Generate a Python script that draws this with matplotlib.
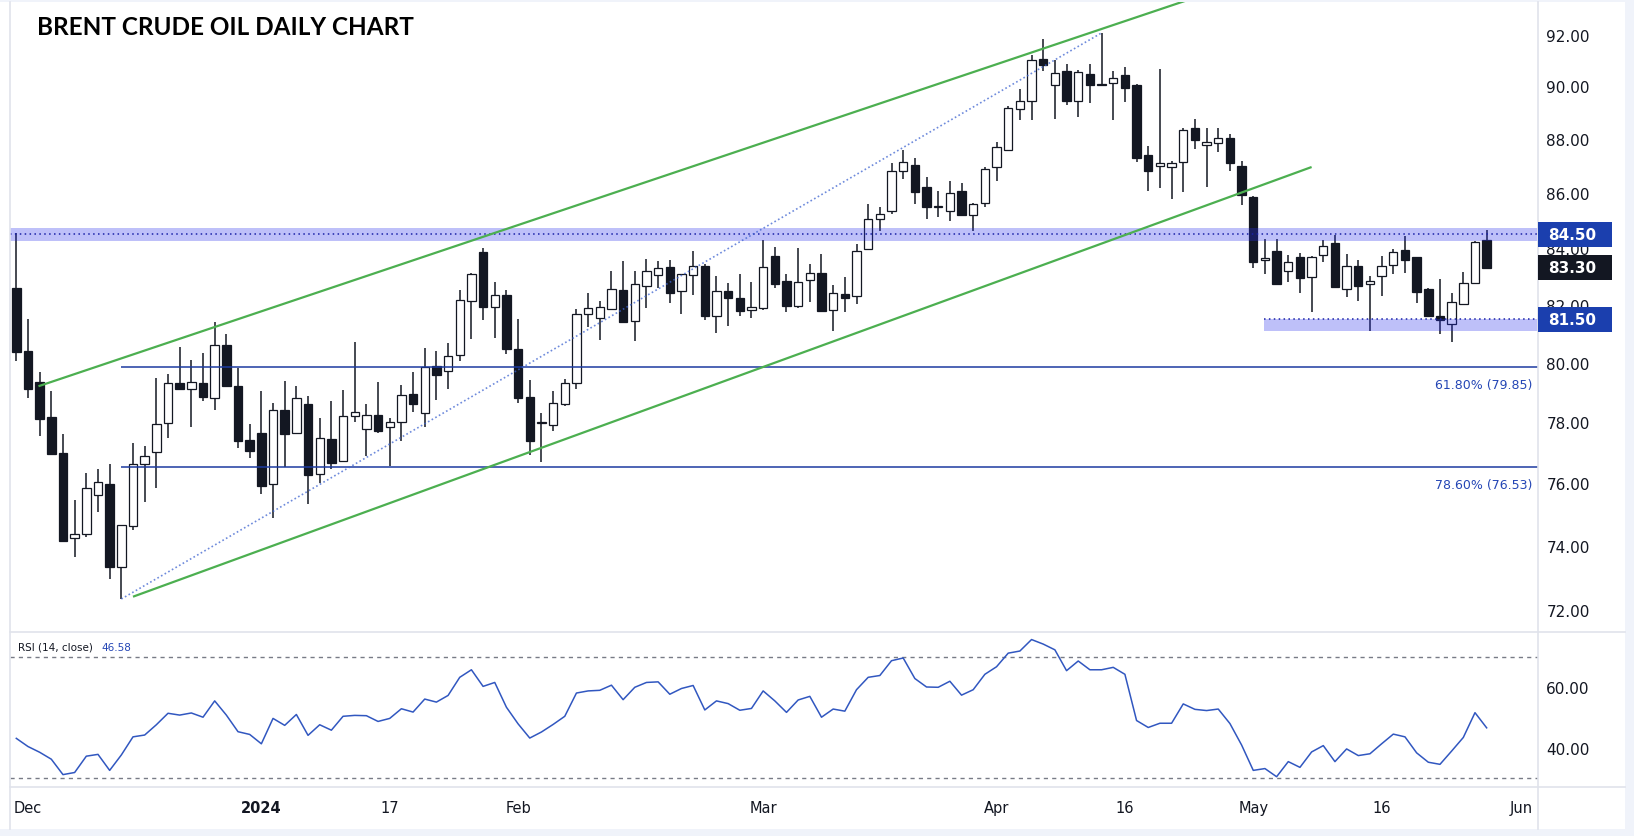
import matplotlib

matplotlib.use('Agg')

import matplotlib.pyplot as plt
import numpy as np
import pandas as pd
from matplotlib.lines import Line2D
from matplotlib.patches import Rectangle
from matplotlib.ticker import FixedLocator, NullLocator, FuncFormatter
from matplotlib.transforms import IdentityTransform

W, H = 1634, 837

# trading sessions shown on the chart
holidays = pd.to_datetime(['2023-12-25', '2024-01-01', '2024-03-29'])
dates = pd.bdate_range('2023-11-30', '2024-05-29')
dates = dates[~dates.isin(holidays)]

opens = [82.60, 80.41, 79.36, 78.18, 76.98, 74.24, 74.37, 75.63, 75.98, 73.35,
         74.63, 76.62, 77.02, 77.97, 79.31, 79.10, 79.33, 78.81, 80.62, 79.21,
         77.42, 77.65, 75.97, 78.40, 77.64, 78.60, 76.30, 77.45, 76.73, 78.22,
         77.77, 78.26, 77.84, 78.00, 78.94, 78.30, 79.89, 79.72, 80.27, 82.13,
         83.86, 81.92, 82.34, 80.48, 78.84, 77.98, 77.90, 78.60, 79.31, 81.68,
         81.54, 81.85, 82.53, 81.43, 82.66, 83.04, 83.33, 82.48, 83.04, 83.37,
         81.61, 82.48, 82.24, 81.81, 81.90, 83.73, 82.83, 81.96, 82.87, 83.12,
         81.81, 82.38, 82.30, 83.96, 85.05, 85.33, 86.83, 87.04, 86.21, 85.50,
         85.33, 86.06, 85.21, 85.63, 86.96, 87.59, 89.13, 89.43, 91.05, 90.04,
         90.59, 89.45, 90.47, 90.08, 90.12, 90.43, 90.04, 87.40, 86.99, 86.96,
         87.14, 88.41, 87.79, 87.85, 88.05, 87.00, 85.87, 83.58, 83.90, 83.19,
         83.68, 82.98, 83.76, 84.19, 82.55, 83.36, 82.73, 83.01, 83.40, 83.94,
         83.68, 82.56, 81.61, 81.33, 82.02, 82.76, 84.30]
highs = [84.55, 81.51, 79.69, 79.05, 77.62, 75.47, 76.34, 76.47, 76.63, 74.66,
         77.33, 77.23, 79.49, 79.63, 80.55, 80.10, 80.34, 81.40, 81.00, 79.83,
         77.95, 79.05, 78.65, 79.39, 79.22, 78.88, 78.14, 78.72, 79.09, 80.71,
         78.60, 79.36, 78.13, 79.26, 79.69, 80.51, 80.41, 80.68, 82.53, 83.13,
         84.00, 82.81, 82.53, 81.51, 79.43, 78.31, 79.04, 79.46, 81.86, 82.41,
         82.14, 83.20, 83.55, 83.20, 83.63, 83.55, 83.59, 83.10, 83.90, 83.45,
         83.02, 82.77, 83.09, 82.81, 84.30, 84.05, 83.09, 84.01, 83.44, 83.79,
         82.70, 82.98, 84.14, 85.60, 85.48, 87.11, 87.60, 87.29, 86.59, 86.06,
         86.44, 86.38, 85.64, 86.96, 87.88, 89.24, 89.90, 91.22, 91.83, 91.01,
         90.86, 90.63, 90.86, 92.07, 90.59, 90.75, 90.08, 87.74, 90.67, 87.18,
         88.41, 88.75, 88.41, 88.40, 88.20, 87.20, 85.90, 84.35, 84.32, 83.76,
         83.82, 83.74, 84.30, 84.47, 83.80, 83.59, 83.02, 83.73, 83.98, 84.45,
         83.70, 82.60, 82.92, 82.41, 83.15, 84.26, 84.65]
lows = [80.08, 78.81, 77.56, 76.95, 74.15, 73.66, 74.28, 75.07, 72.97, 72.35,
        74.52, 75.39, 75.84, 77.48, 79.08, 77.86, 78.73, 78.42, 79.20, 77.15,
        76.82, 75.67, 74.88, 76.53, 77.62, 75.33, 76.02, 76.46, 76.71, 78.02,
        76.90, 77.66, 76.58, 77.40, 78.36, 77.86, 78.76, 79.10, 80.07, 80.83,
        81.49, 80.86, 80.32, 78.64, 76.91, 76.69, 77.70, 78.53, 79.10, 81.24,
        80.80, 81.83, 81.40, 80.76, 81.90, 82.59, 82.08, 81.70, 82.36, 81.46,
        81.04, 81.28, 81.61, 81.56, 81.83, 82.61, 81.77, 81.88, 82.11, 81.74,
        81.11, 81.74, 82.02, 83.94, 84.64, 85.23, 86.50, 85.61, 85.07, 85.14,
        84.97, 85.19, 84.61, 85.50, 86.43, 87.57, 88.70, 88.73, 90.57, 88.77,
        89.27, 88.85, 89.38, 90.02, 88.73, 89.42, 87.13, 86.09, 86.20, 85.80,
        86.05, 87.64, 86.24, 87.50, 86.80, 85.57, 83.31, 83.07, 82.73, 82.82,
        82.43, 81.74, 83.51, 82.62, 82.29, 82.15, 81.11, 82.33, 83.10, 83.14,
        82.08, 81.59, 80.98, 80.70, 82.00, 82.74, 83.29]
closes = [80.39, 79.10, 78.12, 76.97, 74.17, 74.38, 75.85, 76.03, 73.35, 74.66,
          76.62, 76.89, 77.93, 79.31, 79.10, 79.36, 78.86, 80.62, 79.23, 77.40,
          77.04, 75.90, 78.40, 77.63, 78.81, 76.28, 77.48, 76.67, 78.20, 78.33,
          78.26, 77.72, 78.00, 78.91, 78.62, 79.85, 79.60, 80.23, 82.16, 83.08,
          81.92, 82.34, 80.46, 78.81, 77.40, 78.00, 78.64, 79.31, 81.68, 81.88,
          81.92, 82.55, 81.42, 82.73, 83.19, 83.29, 82.43, 83.08, 83.36, 81.63,
          82.48, 82.25, 81.80, 81.92, 83.33, 82.75, 81.95, 82.82, 83.14, 81.80,
          82.41, 82.26, 83.89, 85.05, 85.22, 86.81, 87.14, 86.05, 85.50, 85.52,
          85.99, 85.21, 85.59, 86.89, 87.69, 89.17, 89.43, 91.01, 90.81, 90.50,
          89.45, 90.54, 90.06, 90.06, 90.31, 89.95, 87.31, 86.83, 87.10, 87.10,
          88.33, 87.98, 87.90, 88.05, 87.10, 85.93, 83.53, 83.65, 82.75, 83.51,
          82.94, 83.68, 84.07, 82.64, 83.36, 82.68, 82.83, 83.36, 83.86, 83.60,
          82.47, 81.63, 81.47, 82.09, 82.76, 84.21, 83.30]

rsi = [43.1, 40.4, 38.5, 36.2, 31.1, 31.8, 37.2, 37.8, 32.5, 37.6,
       43.6, 44.2, 47.6, 51.4, 50.8, 51.5, 50.1, 55.5, 50.8, 45.3,
       44.4, 41.3, 49.7, 47.4, 51.0, 44.1, 47.6, 45.8, 50.4, 50.7,
       50.6, 48.7, 49.7, 52.9, 51.8, 56.1, 55.1, 57.3, 63.3, 65.8,
       60.3, 61.6, 53.4, 47.9, 43.2, 45.2, 47.7, 50.4, 58.1, 58.8,
       59.0, 60.7, 55.9, 60.0, 61.6, 61.8, 57.7, 59.6, 60.6, 52.5,
       55.5, 54.6, 52.4, 53.0, 58.8, 55.5, 51.7, 55.8, 57.0, 50.1,
       52.8, 52.1, 59.2, 63.3, 63.9, 68.8, 69.7, 62.9, 60.1, 60.0,
       62.0, 57.4, 59.2, 64.3, 66.8, 71.3, 72.0, 75.8, 74.3, 72.4,
       65.5, 68.7, 65.8, 65.8, 66.6, 64.3, 49.0, 46.7, 48.1, 48.1,
       54.5, 52.7, 52.3, 52.8, 48.0, 40.9, 32.5, 33.1, 30.4, 35.4,
       33.5, 38.6, 40.7, 35.4, 39.6, 37.4, 38.0, 41.3, 44.5, 43.6,
       38.3, 35.2, 34.5, 38.9, 43.4, 51.6, 46.58]

tick_dates = ['2023-12-01', '2024-01-02', '2024-01-17', '2024-02-01', '2024-03-01',
              '2024-04-01', '2024-04-16', '2024-05-01', '2024-05-16']
tick_labels = ['Dec', '2024', '17', 'Feb', 'Mar', 'Apr', '16', 'May', '16']

price_ticks = [72, 74, 76, 78, 80, 82, 84, 86, 88, 90, 92]
rsi_ticks = [40, 60]
rsi_bands = [30, 70]

resist_band = (84.28, 84.74)
resist_level = 84.50
support_band = (81.08, 81.52)
support_level = 81.50
support_start = 106.9
last_price = closes[-1]

fib_levels = [79.85, 76.53]
fib_labels = ['61.80% (79.85)', '78.60% (76.53)']
fib_start = 9

upper_channel = ([1.9, 100.2], [79.21, 93.34])
lower_channel = ([10.0, 111.0], [72.42, 86.96])
swing_line = ([9, 93], [lows[9], highs[93]])

ink = '#131722'
blue_box = '#1b3fae'
grid_gray = '#e0e3eb'


def fx(px):
    return px / W


def fy(py):
    return 1 - py / H


fig = plt.figure(figsize=(W / 100, H / 100), dpi=100)
fig.patch.set_facecolor('white')

ax = fig.add_axes([fx(10), fy(632), (1538 - 10) / W, (632 - 3) / H])
ax_rsi = fig.add_axes([fx(10), fy(788), (1538 - 10) / W, (788 - 633) / H], sharex=ax)

x = np.arange(len(dates))
o = np.array(opens)
hi = np.array(highs)
lo = np.array(lows)
c = np.array(closes)
up = c >= o
body_lo = np.minimum(o, c)
body_hi = np.maximum(np.maximum(o, c), body_lo * 1.0004)

# candles
ax.vlines(x, lo, hi, color=ink, lw=1.1, zorder=2)
ax.bar(x, body_hi - body_lo, bottom=body_lo, width=0.72,
       color=np.where(up, 'white', ink), edgecolor=ink, linewidth=0.9, zorder=2.1)

# zones
ax.axhspan(resist_band[0], resist_band[1], color='#282fee', alpha=0.3, lw=0, zorder=3)
ax.axhline(resist_level, color='#1a22a8', ls=(0, (1, 2.2)), lw=1.1, zorder=3.5)
ax.fill_between([support_start, len(x) + 10], support_band[0], support_band[1],
                color='#282fee', alpha=0.3, lw=0, zorder=3)
ax.hlines(support_level, support_start, len(x) + 10, color='#1a22a8',
          ls=(0, (1, 2.2)), lw=1.1, zorder=3.5)

# fibonacci levels
for lvl, lab in zip(fib_levels, fib_labels):
    ax.hlines(lvl, fib_start, len(x) + 10, color='#1c3aa0', lw=1.1, zorder=3.6)
    ax.annotate(lab, xy=(0.996, lvl), xycoords=('axes fraction', 'data'),
                xytext=(0, -12.5), textcoords='offset points', ha='right', va='center',
                fontsize=9, color='#2446b5', zorder=6)

# trend lines
ax.plot(*upper_channel, color='#4caf50', lw=1.6, zorder=4, solid_capstyle='butt')
ax.plot(*lower_channel, color='#4caf50', lw=1.6, zorder=4, solid_capstyle='butt')
ax.plot(*swing_line, color='#3d63d0', lw=1.2, ls=(0, (1, 1.5)), alpha=0.75, zorder=4)

ax.set_yscale('log')
ax.set_ylim(71.37, 93.29)
ax.set_xlim(-0.54, 130.4)
ax.yaxis.tick_right()
ax.yaxis.set_major_locator(FixedLocator(price_ticks))
ax.yaxis.set_minor_locator(NullLocator())
ax.yaxis.set_major_formatter(FuncFormatter(lambda v, p: f'{v:.2f}'))
ax.tick_params(axis='y', length=0, pad=6, labelsize=11, labelcolor=ink)
ax.tick_params(axis='x', length=0, labelbottom=False)
for s in ax.spines.values():
    s.set_visible(False)

# RSI panel
ax_rsi.plot(x, rsi, color='#3157c0', lw=1.1, zorder=3)
for b in rsi_bands:
    ax_rsi.axhline(b, color='#787b86', lw=1, ls=(0, (3, 3)), zorder=2)
ax_rsi.set_ylim(27.0, 78.3)
ax_rsi.yaxis.tick_right()
ax_rsi.yaxis.set_major_locator(FixedLocator(rsi_ticks))
ax_rsi.yaxis.set_major_formatter(FuncFormatter(lambda v, p: f'{v:.2f}'))
ax_rsi.tick_params(axis='y', length=0, pad=6, labelsize=11, labelcolor=ink)
for s in ax_rsi.spines.values():
    s.set_visible(False)

# date axis (June label sits three sessions past the last bar)
tick_pos = [dates.get_loc(pd.Timestamp(d)) for d in tick_dates] + [len(dates) + 2]
ax_rsi.xaxis.set_major_locator(FixedLocator(tick_pos))
ax_rsi.set_xticklabels(tick_labels + ['Jun'])
ax_rsi.tick_params(axis='x', length=0, pad=9.5, labelsize=10.5, labelcolor=ink)
for t in ax_rsi.get_xticklabels():
    if t.get_text() == '2024':
        t.set_fontweight('bold')

# frame and separators
fig.add_artist(Rectangle((0, fy(3)), 1, 3 / H, transform=fig.transFigure,
                         fc='#f0f3fa', ec='none', zorder=0))
fig.add_artist(Rectangle((0, 0), 1, 7 / H, transform=fig.transFigure,
                         fc='#f0f3fa', ec='none', zorder=0))
fig.add_artist(Rectangle((fx(1625), 0), 9 / W, 1, transform=fig.transFigure,
                         fc='#f0f3fa', ec='none', zorder=0))
for xx in [10, 1538]:
    fig.add_artist(Line2D([fx(xx), fx(xx)], [fy(830), fy(3)], color=grid_gray, lw=1.2))
for yy in [632.5, 788]:
    fig.add_artist(Line2D([fx(10), fx(1625)], [fy(yy), fy(yy)], color=grid_gray, lw=1.2))

# price tags on the right scale
for price, col in [(resist_level, blue_box), (last_price, ink), (support_level, blue_box)]:
    ypix = ax.transData.transform((0, price))[1]
    fig.add_artist(Rectangle((1538, ypix - 12.5), 74, 25, transform=IdentityTransform(),
                             fc=col, ec='none', zorder=10))
    fig.text(fx(1548), ypix / H, f'{price:.2f}', color='white', ha='left', va='center',
             fontsize=11, fontweight='bold', zorder=11)

# titles
fig.text(fx(37), fy(35), 'BRENT CRUDE OIL DAILY CHART', family=['Lato', 'DejaVu Sans'],
         fontsize=17.5, fontweight='bold', color='black', va='baseline')
fig.text(fx(18), fy(648), 'RSI (14, close)', fontsize=7.5, color=ink, va='center')
fig.text(fx(101), fy(648), f'{rsi[-1]:.2f}', fontsize=7.5, color='#2446b5', va='center')

fig.savefig('out.png', dpi=100)
